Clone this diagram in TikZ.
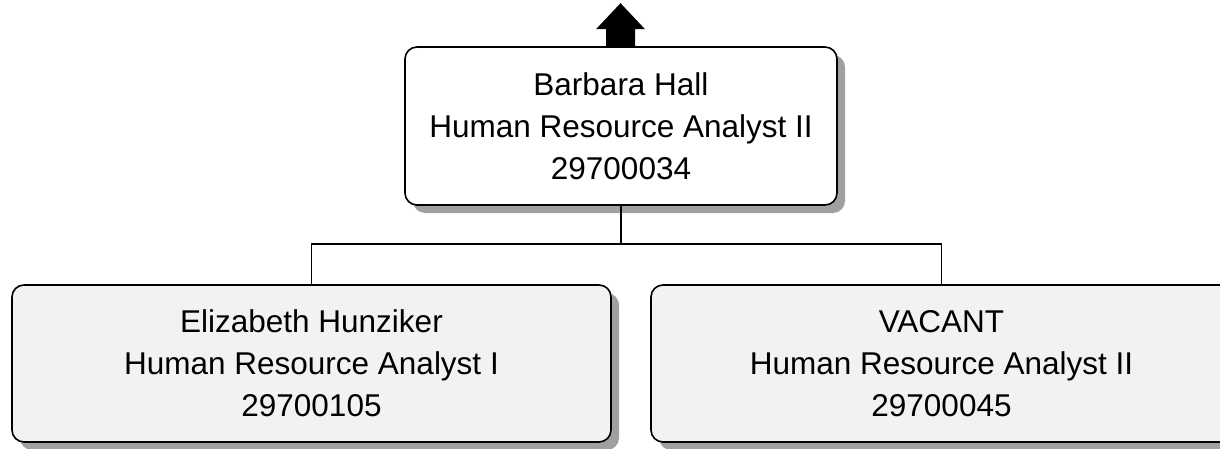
\documentclass[tikz,border=0pt]{standalone}
\usepackage{fontspec}
\setmainfont{Liberation Sans}
\usetikzlibrary{shadows,calc}
\definecolor{shadowgray}{RGB}{160,160,160}
\definecolor{childfill}{RGB}{242,242,242}
\begin{document}
\begin{tikzpicture}[x=1pt,y=1pt,
  posbox/.style={draw=black, line width=1.6pt, rounded corners=12pt,
    align=center, inner sep=0pt,
    font={\fontsize{31.5}{42}\selectfont},
    drop shadow={shadow xshift=8pt, shadow yshift=-8pt, fill=shadowgray, opacity=1}},
  conn/.style={draw=black, line width=1.5pt}]
\useasboundingbox (0,0) rectangle (1220,448);
\node[posbox, fill=white, minimum width=432pt, minimum height=158pt] (top) at (621,322)
  {Barbara Hall\\Human Resource Analyst II\\29700034};
\node[posbox, fill=childfill, minimum width=599pt, minimum height=157pt] (left) at (311.5,84.5)
  {Elizabeth Hunziker\\Human Resource Analyst I\\29700105};
\node[posbox, fill=childfill, minimum width=581pt, minimum height=157pt] (right) at (941.5,84.5)
  {VACANT\\Human Resource Analyst II\\29700045};
\coordinate (bus) at (621,204);
\draw[conn] (top.south) -- (bus);
\draw[conn] (left.north) |- (bus) -| (right.north);
\fill[black] ([xshift=-15pt]top.north) -- ++(0,17) -- ++(-10,0) -- ++(24.5,26) -- ++(24.5,-26) -- ++(-10,0) -- ++(0,-17) -- cycle;
\end{tikzpicture}
\end{document}
